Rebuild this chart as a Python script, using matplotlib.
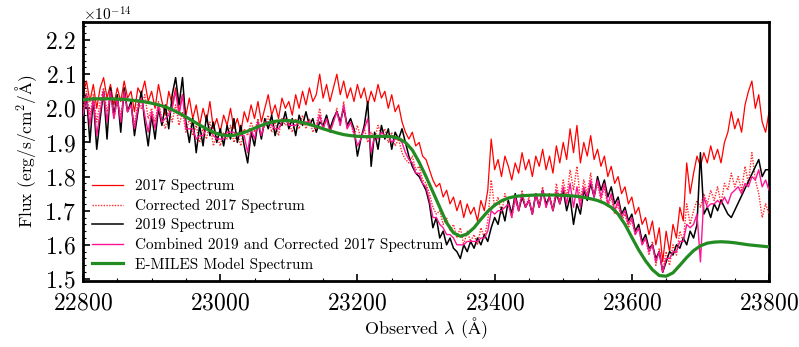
import numpy as np
import matplotlib
matplotlib.use("Agg")
import matplotlib.pyplot as plt
from matplotlib.ticker import FixedLocator, ScalarFormatter

plt.rcParams['font.family'] = 'serif'
plt.rcParams['font.serif'] = ['cmr10', 'DejaVu Serif']
plt.rcParams['mathtext.fontset'] = 'cm'
plt.rcParams['axes.formatter.use_mathtext'] = True
plt.rcParams['axes.unicode_minus'] = False

SCALE = 1e-14
wave = np.arange(22800, 23801, 5)
x_ticks = [22800, 23000, 23200, 23400, 23600, 23800]
y_ticks = [1.5, 1.6, 1.7, 1.8, 1.9, 2.0, 2.1, 2.2]

flux_2017 = [
    2.04, 2.08, 2.02, 2.07, 2.00, 2.06, 2.09, 2.03, 2.07, 2.01,
    2.06, 2.02, 2.08, 2.03, 2.05, 1.99, 2.06, 2.04, 2.08, 2.02,
    2.05, 2.00, 2.07, 2.02, 1.98, 2.05, 2.01, 2.06, 1.99, 2.04,
    1.98, 2.03, 1.97, 2.01, 1.95, 2.00, 1.96, 2.02, 1.94, 1.97,
    1.93, 1.98, 1.95, 2.00, 1.94, 1.97, 1.93, 1.99, 1.96, 2.01,
    1.97, 2.02, 1.96, 2.00, 2.04, 1.98, 2.01, 1.97, 2.03, 2.00,
    2.02, 1.98, 2.04, 2.00, 2.05, 2.01, 2.06, 2.02, 2.04, 2.10,
    2.03, 2.07, 2.02, 2.06, 2.10, 2.04, 2.08, 2.03, 2.06, 2.02,
    2.07, 2.03, 2.06, 2.01, 2.05, 2.02, 2.07, 2.03, 2.05, 2.00,
    2.04, 1.99, 2.01, 1.96, 1.93, 1.91, 1.93, 1.89, 1.90, 1.86,
    1.85, 1.82, 1.79, 1.77, 1.78, 1.74, 1.76, 1.72, 1.74, 1.70,
    1.73, 1.68, 1.72, 1.69, 1.71, 1.67, 1.73, 1.70, 1.76, 1.91,
    1.82, 1.85, 1.80, 1.86, 1.83, 1.79, 1.84, 1.81, 1.87, 1.82,
    1.85, 1.80, 1.86, 1.83, 1.88, 1.82, 1.86, 1.81, 1.89, 1.84,
    1.90, 1.85, 1.94, 1.87, 1.95, 1.84, 1.90, 1.86, 1.92, 1.85,
    1.88, 1.83, 1.86, 1.80, 1.83, 1.78, 1.80, 1.75, 1.77, 1.72,
    1.74, 1.69, 1.71, 1.66, 1.68, 1.63, 1.67, 1.60, 1.65, 1.55,
    1.64, 1.58, 1.66, 1.62, 1.71, 1.67, 1.84, 1.75, 1.81, 1.86,
    1.83, 1.87, 1.84, 1.89, 1.85, 1.88, 1.84, 1.90, 1.93, 1.99,
    1.94, 1.97, 1.93, 2.01, 2.05, 2.08, 2.00, 2.04, 1.96, 1.93,
    1.99,
]

flux_2017_corr = [
    2.00, 2.05, 1.98, 2.04, 1.96, 2.02, 2.06, 1.99, 2.04, 1.97,
    2.02, 1.98, 2.04, 1.99, 2.01, 1.95, 2.02, 2.00, 2.04, 1.97,
    2.00, 1.96, 2.02, 1.97, 1.94, 2.00, 1.96, 2.01, 1.95, 1.99,
    1.93, 1.97, 1.92, 1.95, 1.90, 1.94, 1.91, 1.96, 1.89, 1.92,
    1.89, 1.93, 1.91, 1.95, 1.90, 1.93, 1.89, 1.94, 1.92, 1.96,
    1.93, 1.97, 1.92, 1.95, 1.98, 1.93, 1.96, 1.92, 1.97, 1.95,
    1.96, 1.93, 1.97, 1.94, 1.98, 1.94, 1.97, 1.93, 1.95, 2.00,
    1.94, 1.97, 1.93, 1.96, 2.00, 1.95, 2.02, 1.94, 1.96, 1.92,
    1.95, 1.91, 1.94, 1.90, 1.93, 1.91, 1.95, 1.92, 1.94, 1.90,
    1.93, 1.89, 1.91, 1.87, 1.85, 1.84, 1.86, 1.82, 1.83, 1.79,
    1.78, 1.75, 1.71, 1.69, 1.70, 1.66, 1.68, 1.64, 1.66, 1.62,
    1.65, 1.60, 1.64, 1.61, 1.63, 1.60, 1.65, 1.62, 1.67, 1.79,
    1.71, 1.74, 1.69, 1.75, 1.72, 1.68, 1.73, 1.70, 1.76, 1.71,
    1.74, 1.69, 1.75, 1.72, 1.77, 1.71, 1.75, 1.70, 1.78, 1.73,
    1.79, 1.74, 1.82, 1.76, 1.83, 1.73, 1.79, 1.75, 1.81, 1.74,
    1.78, 1.73, 1.77, 1.71, 1.74, 1.69, 1.72, 1.67, 1.69, 1.65,
    1.67, 1.63, 1.65, 1.60, 1.62, 1.57, 1.61, 1.54, 1.59, 1.52,
    1.58, 1.54, 1.60, 1.57, 1.64, 1.61, 1.72, 1.66, 1.70, 1.73,
    1.71, 1.75, 1.72, 1.76, 1.73, 1.77, 1.72, 1.78, 1.76, 1.81,
    1.77, 1.80, 1.76, 1.83, 1.78, 1.87, 1.79, 1.75, 1.68, 1.72,
    1.69,
]

nan = np.nan
flux_2019 = [
    1.97, 2.04, 1.90, 2.03, 1.88, 1.97, 2.05, 1.91, 2.06, 1.98,
    2.04, 1.93, 2.06, 1.99, 2.02, 1.92, 1.99, 2.05, 1.96, 1.89,
    1.98, 1.91, 2.00, 1.95, 2.01, 1.94, 2.04, 2.09, 2.01, 2.09,
    1.96, 1.90, 1.97, 1.87, 1.95, 1.89, 1.98, 1.92, 1.96, 1.90,
    1.94, 1.89, 1.95, 1.91, 1.97, 1.90, 1.95, 1.89, 1.84, 1.93,
    1.89, 1.96, 1.91, 1.97, 1.94, 1.98, 1.92, 1.96, 1.95, 1.99,
    1.94, 1.97, 1.92, 1.98, 1.95, 1.99, 1.95, 1.97, 1.93, 1.96,
    1.95, 1.98, 1.94, 1.97, 1.99, 1.96, 2.00, 1.95, 1.97, 1.94,
    1.86, 1.91, 1.95, 2.02, 1.83, 1.93, 1.88, 1.95, 1.91, 1.94,
    1.88, 1.93, 1.91, 1.94, 1.90, 1.86, 1.83, 1.81, 1.80, 1.78,
    1.76, 1.72, 1.65, 1.68, 1.62, 1.64, 1.60, 1.62, 1.59, 1.58,
    1.56, 1.60, 1.58, 1.61, 1.59, 1.62, 1.60, 1.63, 1.61, 1.65,
    1.68, 1.66, 1.71, 1.67, 1.73, 1.69, 1.75, 1.70, 1.74, 1.71,
    1.73, 1.69, 1.75, 1.71, 1.76, 1.72, 1.74, 1.70, 1.75, 1.72,
    1.76, 1.70, 1.74, 1.66, 1.72, 1.69, 1.76, 1.73, 1.78, 1.74,
    1.80, 1.76, 1.79, 1.74, 1.77, 1.72, 1.74, 1.69, 1.71, 1.67,
    1.69, 1.64, 1.66, 1.61, 1.63, 1.59, 1.60, 1.56, 1.58, 1.52,
    1.55, 1.58, 1.57, 1.60, 1.59, 1.62, 1.60, 1.64, 1.62, 1.66,
    1.87, 1.69, 1.71, 1.68, 1.72, 1.70, 1.73, 1.71, 1.69, 1.68,
    nan, nan, nan, nan, nan, nan, nan, 1.85, 1.80, 1.82,
    1.82,
]

flux_combined = [
    1.98, 2.04, 1.95, 2.03, 1.92, 1.99, 2.05, 1.96, 2.05, 1.97,
    2.03, 1.96, 2.05, 1.99, 2.01, 1.94, 2.00, 2.03, 1.98, 1.93,
    1.99, 1.94, 2.01, 1.96, 1.97, 1.98, 2.00, 2.05, 1.98, 2.04,
    1.94, 1.94, 1.94, 1.91, 1.92, 1.92, 1.94, 1.94, 1.92, 1.91,
    1.91, 1.91, 1.93, 1.93, 1.93, 1.92, 1.92, 1.92, 1.87, 1.94,
    1.91, 1.96, 1.92, 1.96, 1.96, 1.95, 1.94, 1.94, 1.96, 1.97,
    1.95, 1.95, 1.95, 1.96, 1.96, 1.96, 1.96, 1.95, 1.94, 1.98,
    1.94, 1.97, 1.93, 1.96, 1.99, 1.95, 2.01, 1.94, 1.96, 1.93,
    1.89, 1.91, 1.94, 1.97, 1.87, 1.92, 1.91, 1.93, 1.92, 1.92,
    1.90, 1.91, 1.91, 1.90, 1.87, 1.85, 1.84, 1.81, 1.81, 1.78,
    1.77, 1.73, 1.68, 1.68, 1.66, 1.65, 1.63, 1.63, 1.62, 1.60,
    1.60, 1.60, 1.61, 1.61, 1.61, 1.61, 1.62, 1.62, 1.64, 1.70,
    1.69, 1.70, 1.70, 1.71, 1.72, 1.68, 1.74, 1.70, 1.75, 1.71,
    1.73, 1.69, 1.75, 1.71, 1.76, 1.71, 1.74, 1.70, 1.76, 1.72,
    1.77, 1.72, 1.78, 1.71, 1.77, 1.71, 1.77, 1.74, 1.79, 1.74,
    1.79, 1.74, 1.78, 1.72, 1.75, 1.70, 1.73, 1.68, 1.70, 1.66,
    1.68, 1.63, 1.65, 1.60, 1.62, 1.58, 1.60, 1.55, 1.58, 1.52,
    1.56, 1.56, 1.58, 1.58, 1.61, 1.61, 1.66, 1.65, 1.66, 1.69,
    1.55, 1.74, 1.71, 1.72, 1.72, 1.73, 1.72, 1.74, 1.72, 1.75,
    1.76, 1.77, 1.75, 1.78, 1.77, 1.80, 1.79, 1.82, 1.77, 1.79,
    1.76,
]

model_wave = np.arange(22800, 23801, 10)
model_flux = [
    2.025, 2.027, 2.028, 2.028, 2.028, 2.027, 2.026, 2.024, 2.022, 2.019,
    2.015, 2.010, 2.004, 1.996, 1.986, 1.975, 1.963, 1.951, 1.940, 1.930,
    1.923, 1.920, 1.921, 1.926, 1.933, 1.942, 1.950, 1.957, 1.962, 1.964,
    1.964, 1.962, 1.958, 1.953, 1.947, 1.940, 1.934, 1.928, 1.923, 1.920,
    1.918, 1.917, 1.917, 1.918, 1.918, 1.917, 1.912, 1.900, 1.878, 1.842,
    1.800, 1.755, 1.710, 1.665, 1.635, 1.625, 1.632, 1.650, 1.675, 1.698,
    1.716, 1.729, 1.737, 1.742, 1.744, 1.745, 1.746, 1.746, 1.746, 1.746,
    1.745, 1.744, 1.742, 1.739, 1.735, 1.730, 1.722, 1.710, 1.690, 1.660,
    1.622, 1.585, 1.553, 1.527, 1.510, 1.508, 1.518, 1.540, 1.563, 1.583,
    1.597, 1.605, 1.608, 1.609, 1.608, 1.606, 1.603, 1.600, 1.598, 1.596,
    1.594,
]

fig = plt.figure(figsize=(7.99, 3.47), dpi=100)
ax = fig.add_axes([0.1039, 0.1902, 0.8586, 0.7464])

def sc(v):
    return np.asarray(v, dtype=float) * SCALE

ax.plot(wave, sc(flux_2017), color='#ff0000', lw=0.9, label='2017 Spectrum', zorder=2)
ax.plot(wave, sc(flux_2017_corr), color='#ff2a2a', lw=1.0, ls=(0, (1, 1)),
        label='Corrected 2017 Spectrum', zorder=3)
f19 = np.asarray(flux_2019, dtype=float)
m = ~np.isnan(f19)
ax.plot(wave[m], sc(f19[m]), color='black', lw=1.1, label='2019 Spectrum', zorder=4)
ax.plot(wave, sc(flux_combined), color='#ff1493', lw=1.0,
        label='Combined 2019 and Corrected 2017 Spectrum', zorder=5)
ax.plot(model_wave, sc(model_flux), color='#228b22', lw=2.3,
        label='E-MILES Model Spectrum', zorder=6)

ax.set_xlim(22800, 23800)
ax.set_ylim(1.494 * SCALE, 2.253 * SCALE)

ax.xaxis.set_major_locator(FixedLocator(x_ticks))
ax.xaxis.set_minor_locator(FixedLocator(np.arange(22850, 23800, 50)))
ax.yaxis.set_major_locator(FixedLocator(sc(y_ticks)))
ax.yaxis.set_minor_locator(FixedLocator(sc(np.arange(1.50, 2.2501, 0.02))))
fmt = ScalarFormatter(useMathText=True)
fmt.set_powerlimits((0, 0))
ax.yaxis.set_major_formatter(fmt)
ax.yaxis.get_offset_text().set_visible(False)
fig.text(0.104, 0.958, r'$\times10^{-14}$', fontsize=11, ha='left', va='center')

ax.tick_params(which='both', direction='in')
ax.tick_params(which='major', length=5, width=1.2, labelsize=17)
ax.tick_params(which='minor', length=2.5, width=0.8)
ax.tick_params(axis='x', which='major', pad=8)
ax.tick_params(axis='y', which='major', pad=5)
for s in ax.spines.values():
    s.set_linewidth(2.0)

ax.set_xlabel(r'Observed $\lambda$ ($\mathrm{\AA}$)', fontsize=13, labelpad=1)
ax.set_ylabel(r'Flux (erg/s/cm$^2$/$\mathrm{\AA}$)', fontsize=12.5, labelpad=4)

ax.legend(loc='lower left', bbox_to_anchor=(0.0, 0.0), frameon=False, fontsize=11,
          handlelength=2.0, handletextpad=0.8, labelspacing=0.36, borderaxespad=0.2)

fig.savefig('out.png', dpi=100)
